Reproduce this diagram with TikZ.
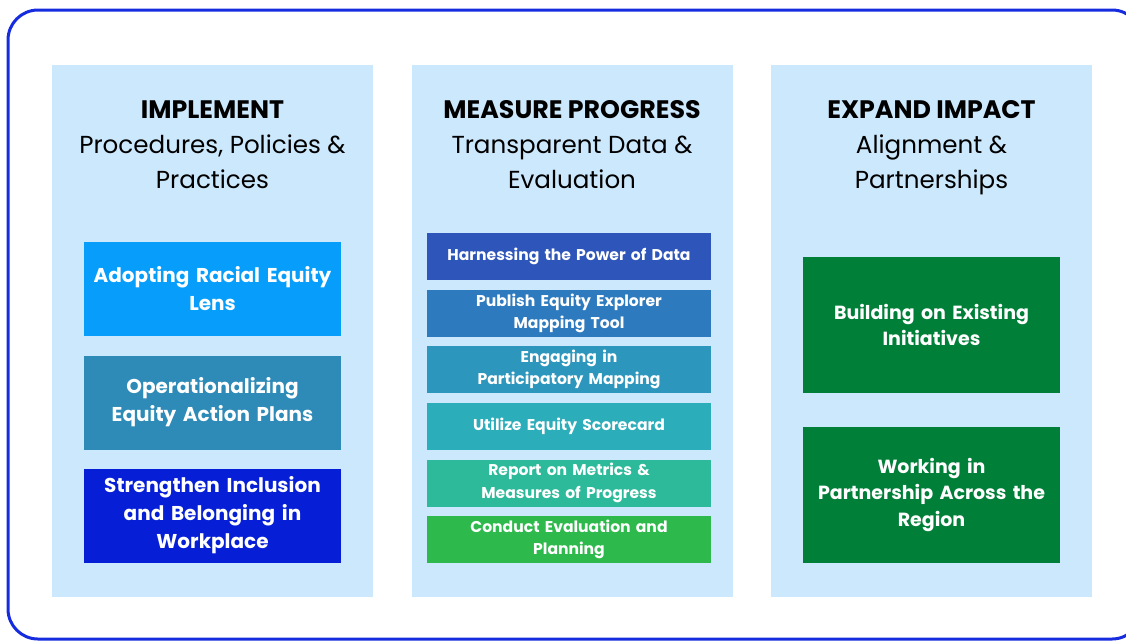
\documentclass[tikz,border=0pt]{standalone}
\usepackage{fontspec}
\setmainfont{Poppins}

\definecolor{framecol}{RGB}{22, 44, 222}
\definecolor{panelcol}{RGB}{204, 232, 252}
\definecolor{implA}{RGB}{6, 158, 250}
\definecolor{implB}{RGB}{46, 138, 182}
\definecolor{implC}{RGB}{5, 30, 214}
\definecolor{measA}{RGB}{46, 85, 185}
\definecolor{measB}{RGB}{45, 122, 190}
\definecolor{measC}{RGB}{44, 150, 188}
\definecolor{measD}{RGB}{43, 173, 186}
\definecolor{measE}{RGB}{44, 186, 154}
\definecolor{measF}{RGB}{45, 185, 75}
\definecolor{expandcol}{RGB}{0, 127, 56}

\tikzset{
    frame/.style={draw=framecol, line width=3, rounded corners=30},
    panel/.style={fill=panelcol, minimum width=321, minimum height=532,
        inner sep=0},
    heading/.style={anchor=north, inner sep=0, align=center,
        font=\fontsize{24.6}{35}\selectfont},
    bigbox/.style={minimum width=257, minimum height=94, inner sep=0,
        text width=250, align=center, text=white,
        font=\fontsize{20}{28}\selectfont\bfseries},
    smallbox/.style={minimum width=284, minimum height=47, inner sep=0,
        text width=276, align=center, text=white,
        font=\fontsize{15.6}{22.5}\selectfont\bfseries},
    greenbox/.style={fill=expandcol, minimum width=257, minimum height=136,
        inner sep=0, text width=250, align=center, text=white,
        font=\fontsize{19}{26.5}\selectfont\bfseries}
}

\begin{document}
\begin{tikzpicture}[x=1pt, y=-1pt]
    \useasboundingbox (0, 0) rectangle (1126, 641);
    \draw[frame] (8, 10) rectangle (1142, 639);
    \foreach \i/\x in {1/212.5, 2/572, 3/931.5}{
        \node[panel] (col\i) at (\x, 331) {};
    };
    \node[heading] (head1) at (212.5, 100.5)
        {{\fontsize{25.3}{35}\selectfont\bfseries IMPLEMENT}\\
         Procedures, Policies \&\\Practices};
    \node[heading] (head2) at (572, 100.5)
        {{\fontsize{25.3}{35}\selectfont\bfseries MEASURE PROGRESS}\\
         Transparent Data \&\\Evaluation};
    \node[heading] (head3) at (931.5, 100.5)
        {{\fontsize{25.3}{35}\selectfont\bfseries EXPAND IMPACT}\\
         Alignment \&\\Partnerships};
    \foreach \i/\y/\c/\t in
        {1/289/implA/{Adopting Racial Equity\\Lens},
         2/402.5/implB/{Operationalizing\\Equity Action Plans},
         3/515.5/implC/{Strengthen Inclusion\\and Belonging in\\Workplace}}{
        \node[bigbox, fill=\c] (impl\i) at (212.5, \y) {\t};
    };
    \foreach \i/\y/\c/\t in
        {1/256.5/measA/{Harnessing the Power of Data},
         2/313.5/measB/{Publish Equity Explorer\\Mapping Tool},
         3/369.5/measC/{Engaging in\\Participatory Mapping},
         4/426.5/measD/{Utilize Equity Scorecard},
         5/483/measE/{Report on Metrics \&\\Measures of Progress},
         6/539.5/measF/{Conduct Evaluation and\\Planning}}{
        \node[smallbox, fill=\c] (meas\i) at (569, \y) {\t};
    };
    \node[greenbox] (expand1) at (931.5, 325)
        {Building on Existing\\Initiatives};
    \node[greenbox] (expand2) at (931.5, 494.5)
        {Working in\\Partnership Across the\\Region};
\end{tikzpicture}
\end{document}
